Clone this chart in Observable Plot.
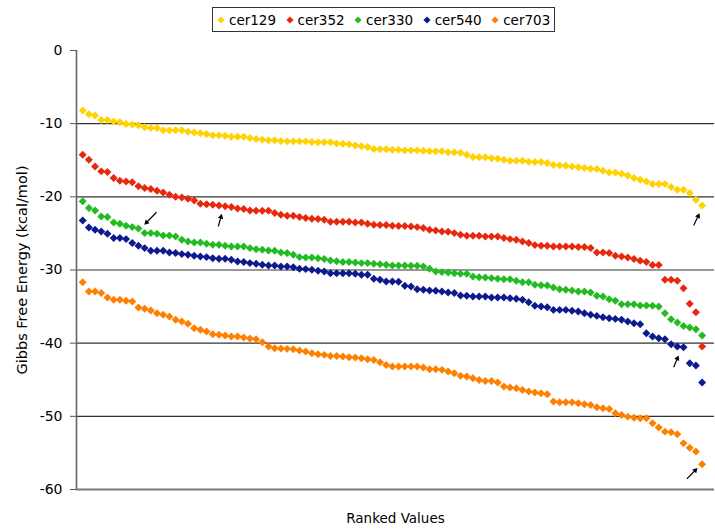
<!DOCTYPE html>
<html>
<head>
<meta charset="utf-8">
<script src="https://cdn.jsdelivr.net/npm/d3@7"></script>
<script src="https://cdn.jsdelivr.net/npm/@observablehq/plot@0.6"></script>
<style>
  body { margin: 0; background: #fff; font-family: "DejaVu Sans", Verdana, sans-serif; }
  #legend { height: 40px; position: relative; }
  #legend .box { position: absolute; left: 212px; top: 7px; height: 25px; box-sizing: border-box;
    border: 1px solid #333; display: flex; align-items: center; padding: 0 4px 0 4px; font-size: 13.5px; color: #000; }
  #legend .item { display: flex; align-items: center; margin-right: 9.5px; }
  #legend .item:last-child { margin-right: 0; }
  #legend .item svg { margin-right: 4px; }
  #chart svg { display: block; }
</style>
</head>
<body>
<div id="legend"><div class="box"></div></div>
<div id="chart"></div>
<script>
// ---- data ----
const seriesNames = ["cer129", "cer352", "cer330", "cer540", "cer703"];
const seriesColors = ["#FFD200", "#E8280E", "#22BB22", "#0C1A8E", "#FF8000"];
const yTicks = [0, -10, -20, -30, -40, -50, -60];
const gridValues = [-10, -20, -30, -40, -50];
const yLabel = "Gibbs Free Energy (kcal/mol)";
const xLabel = "Ranked Values";

const cer129 = [
  -8.2, -8.7, -8.9, -9.5, -9.5, -9.7, -9.8, -10.05, -10.1, -10.2, -10.5, -10.6, -10.6, -10.9, -10.9, -10.9, -10.9, -11.1, -11.2, -11.3, -11.4, -11.6, -11.6, -11.65, -11.78,
  -11.78, -11.8, -11.96, -12.1, -12.19, -12.28, -12.28, -12.37, -12.42, -12.42, -12.42, -12.42, -12.5, -12.55, -12.55, -12.55, -12.7, -12.74, -12.83, -13.0, -13.1, -13.2, -13.47, -13.5, -13.5, -13.56,
  -13.56, -13.65, -13.65, -13.65, -13.69, -13.78, -13.78, -13.78, -13.92, -13.92, -13.97, -14.24, -14.56, -14.6, -14.6, -14.74, -14.79, -14.92, -15.06, -15.06, -15.06, -15.2, -15.24, -15.24, -15.38, -15.65,
  -15.7, -15.75, -15.84, -15.97, -16.06, -16.16, -16.2, -16.43, -16.66, -16.66, -16.84, -17.1, -17.43, -17.66, -17.89, -18.25, -18.25, -18.25, -18.66, -19.03, -19.03, -19.48, -20.4, -21.2
];
const cer352 = [
  -14.24, -14.92, -15.84, -16.52, -16.6, -17.43, -17.8, -17.89, -18.0, -18.57, -18.8, -18.94, -19.17, -19.4, -19.7, -20.0, -20.08, -20.26, -20.49, -20.94, -21.0, -21.08, -21.2, -21.3, -21.4,
  -21.58, -21.67, -21.86, -21.9, -21.9, -21.9, -22.22, -22.45, -22.59, -22.59, -22.77, -22.9, -23.0, -23.04, -23.13, -23.4, -23.4, -23.4, -23.4, -23.5, -23.5, -23.68, -23.82, -23.86, -23.86, -23.95,
  -23.97, -24.0, -24.04, -24.14, -24.27, -24.5, -24.59, -24.73, -24.77, -24.96, -25.18, -25.32, -25.32, -25.32, -25.41, -25.41, -25.41, -25.64, -25.78, -25.87, -26.1, -26.32, -26.6, -26.69, -26.69, -26.78,
  -26.8, -26.8, -26.8, -26.85, -26.85, -27.0, -27.6, -27.6, -27.69, -28.06, -28.15, -28.29, -28.51, -28.74, -28.92, -29.33, -29.33, -31.34, -31.34, -31.48, -32.48, -34.62, -35.76, -40.46
];
const cer330 = [
  -20.62, -21.54, -21.86, -22.68, -22.77, -23.5, -23.68, -23.95, -24.14, -24.32, -24.96, -24.96, -25.05, -25.28, -25.28, -25.41, -25.87, -26.1, -26.23, -26.23, -26.42, -26.55, -26.55, -26.69, -26.78,
  -26.78, -26.78, -27.01, -27.15, -27.24, -27.33, -27.37, -27.6, -27.69, -27.92, -28.24, -28.29, -28.29, -28.38, -28.51, -28.7, -28.79, -28.92, -28.92, -28.97, -29.06, -29.06, -29.15, -29.2, -29.29, -29.38,
  -29.38, -29.38, -29.43, -29.43, -29.52, -29.84, -30.2, -30.29, -30.34, -30.43, -30.52, -30.52, -30.88, -30.98, -31.02, -31.11, -31.2, -31.25, -31.25, -31.48, -31.66, -31.66, -32.02, -32.07, -32.12, -32.39,
  -32.62, -32.71, -32.8, -32.94, -32.94, -33.07, -33.53, -33.62, -33.99, -34.2, -34.67, -34.67, -34.67, -34.85, -34.85, -34.9, -34.99, -35.9, -36.72, -37.18, -37.64, -37.87, -38.1, -38.96
];
const cer540 = [
  -23.22, -24.18, -24.5, -24.73, -25.05, -25.64, -25.64, -25.78, -26.32, -26.69, -27.01, -27.37, -27.37, -27.37, -27.6, -27.69, -27.83, -27.92, -28.06, -28.15, -28.24, -28.38, -28.47, -28.47, -28.6,
  -28.83, -28.92, -29.06, -29.15, -29.29, -29.38, -29.38, -29.52, -29.52, -29.61, -29.84, -29.88, -29.97, -30.11, -30.2, -30.43, -30.43, -30.43, -30.43, -30.52, -30.66, -30.66, -31.2, -31.34, -31.57, -31.57,
  -31.6, -32.16, -32.25, -32.62, -32.71, -32.8, -32.85, -32.94, -33.07, -33.16, -33.48, -33.53, -33.62, -33.62, -33.62, -33.76, -33.76, -33.76, -33.85, -33.94, -34.08, -34.4, -34.9, -34.99, -35.08, -35.45,
  -35.45, -35.45, -35.58, -35.67, -35.9, -36.13, -36.27, -36.45, -36.59, -36.68, -36.81, -37.04, -37.27, -37.41, -38.64, -39.09, -39.32, -39.46, -40.14, -40.46, -40.55, -42.74, -43.06, -45.39
];
const cer703 = [
  -31.66, -32.94, -32.94, -33.16, -33.76, -34.08, -34.08, -34.21, -34.3, -35.13, -35.31, -35.54, -35.9, -36.13, -36.36, -36.81, -37.04, -37.36, -37.95, -38.18, -38.41, -38.77, -38.86, -38.96, -39.09,
  -39.09, -39.23, -39.37, -39.46, -39.87, -40.46, -40.69, -40.73, -40.78, -40.83, -41.0, -41.14, -41.37, -41.51, -41.6, -41.74, -41.74, -41.83, -41.92, -41.97, -42.06, -42.2, -42.29, -42.61, -42.97, -43.2,
  -43.2, -43.2, -43.2, -43.2, -43.33, -43.56, -43.56, -43.65, -43.88, -44.11, -44.47, -44.56, -44.79, -45.02, -45.16, -45.16, -45.38, -45.93, -46.07, -46.16, -46.39, -46.62, -46.75, -46.84, -46.98, -47.98,
  -48.08, -48.08, -48.08, -48.22, -48.35, -48.44, -48.76, -48.9, -48.99, -49.58, -49.81, -50.04, -50.18, -50.27, -50.27, -50.95, -51.54, -52.09, -52.18, -52.45, -53.68, -54.28, -54.82, -56.56
];
const seriesValues = [cer129, cer352, cer330, cer540, cer703];
const ranks = cer129.map((_, i) => i + 1);

// arrow annotations: target point (series, rank) with tail/tip offsets in screen pixels
const arrowTargets = ["cer330", "cer352", "cer129", "cer540", "cer703"];
const arrowRanks = [11, 23, 101, 98, 101];
const arrowTip = [[-0.4, -8.3], [2.9, 8.2], [-2.5, 7.6], [-4.9, 8.3], [-4.6, 3.6]];
const arrowTail = [[11.9, -20.9], [-0.7, 20.9], [-8.5, 19.8], [-9.9, 20], [-15.2, 14.6]];

// ---- layout ----
const W = 715, H = 490;
const mL = 76, mR = 1, mT = 10, mB = 41;
const xDomain = [0, 103], yDomain = [-60, 0];
const kx = (W - mL - mR) / (xDomain[1] - xDomain[0]);
const ky = (H - mT - mB) / (yDomain[1] - yDomain[0]);

const points = seriesNames.flatMap((s, k) => seriesValues[k].map((v, i) => ({series: s, rank: ranks[i], value: v})));

const headS = 3.2;
const arrows = arrowTargets.map((s, j) => {
  const k = seriesNames.indexOf(s);
  const r = arrowRanks[j], v = seriesValues[k][r - 1];
  const [tx, ty] = arrowTip[j], [ax, ay] = arrowTail[j];
  const vx = tx - ax, vy = ty - ay, len = Math.hypot(vx, vy);
  const hx = tx - vx / len * headS, hy = ty - vy / len * headS;
  return {
    x1: r + ax / kx, y1: v - ay / ky,
    x2: r + hx / kx, y2: v - hy / ky,
    angle: Math.atan2(vx, -vy) * 180 / Math.PI
  };
});

// ---- legend ----
const box = document.querySelector("#legend .box");
seriesNames.forEach((s, k) => {
  const it = document.createElement("div");
  it.className = "item";
  it.innerHTML = `<svg width="8" height="8" viewBox="-4 -4 8 8"><path d="M0,-3.6L3.6,0L0,3.6L-3.6,0Z" fill="${seriesColors[k]}"/></svg><span>${s}</span>`;
  box.appendChild(it);
});

// ---- chart ----
const chart = Plot.plot({
  width: W, height: H,
  marginLeft: mL, marginRight: mR, marginTop: mT, marginBottom: mB,
  style: {fontFamily: "'DejaVu Sans', Verdana, sans-serif", background: "#fff", color: "#000"},
  x: {domain: xDomain, axis: null},
  y: {domain: yDomain},
  color: {domain: seriesNames, range: seriesColors},
  marks: [
    Plot.ruleY(gridValues, {stroke: "#333", strokeWidth: 1.2}),
    Plot.ruleY([yDomain[0]], {stroke: "#777", strokeWidth: 2}),
    Plot.ruleX([xDomain[0]], {stroke: "#666", strokeWidth: 1.6}),
    Plot.axisY({ticks: yTicks, tickSize: 6, tickPadding: 8, fontSize: 14, stroke: "#555",
      tickFormat: d => String(d), label: null}),
    Plot.dot(points, {x: "rank", y: "value", fill: "series", symbol: "diamond2", r: 3.6, stroke: "none"}),
    Plot.link(arrows, {x1: "x1", y1: "y1", x2: "x2", y2: "y2", stroke: "#000", strokeWidth: 1.2}),
    Plot.dot(arrows, {x: "x2", y: "y2", symbol: "triangle2", r: 2.6, fill: "#000", stroke: "none", rotate: "angle"}),
    Plot.text([yLabel], {frameAnchor: "left", textAnchor: "middle", lineAnchor: "middle", rotate: -90, dx: -54, fontSize: 14.5, fill: "#000"}),
    Plot.text([xLabel], {frameAnchor: "bottom", textAnchor: "middle", lineAnchor: "middle", dy: 29, fontSize: 13.5, fill: "#000"})
  ]
});
document.getElementById("chart").appendChild(chart);
</script>
</body>
</html>
